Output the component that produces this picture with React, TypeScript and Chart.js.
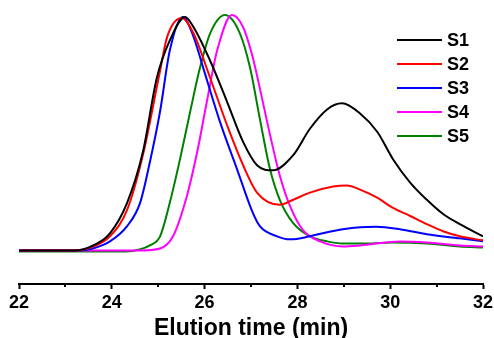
import React, { useEffect, useRef } from "react";
import { Chart, registerables } from "chart.js";

Chart.register(...registerables);

const seriesNames = ["S1", "S2", "S3", "S4", "S5"];
const seriesColors = ["#000000", "#ff0000", "#0000ff", "#ff00ff", "#008000"];
const majorTicks = [22, 24, 26, 28, 30, 32];
const minorTicks = [23, 25, 27, 29, 31];
const xTitle = "Elution time (min)";

const s1Time = [22, 23.2, 23.6, 23.96, 24.33, 24.67, 24.97, 25.25, 25.58, 25.75, 26.12, 26.48, 26.83, 27.13, 27.47, 27.91, 28.27, 28.64, 28.96, 29.35, 29.72, 30.06, 30.43, 30.79, 31.14, 31.5, 32];
const s1Signal = [33, 33, 38, 50, 80, 130, 203, 240, 263, 254, 220, 180, 140, 117, 112, 127, 153, 172, 178, 168, 150, 123, 100, 83, 69, 59, 47];

const s2Time = [22, 23.2, 23.6, 23.96, 24.33, 24.67, 25.04, 25.19, 25.51, 25.75, 26.12, 26.48, 26.83, 27.13, 27.62, 27.91, 28.27, 28.77, 29.07, 29.35, 29.72, 30.06, 30.43, 30.79, 31.14, 31.5, 32];
const s2Signal = [33, 33, 37, 47, 73, 127, 210, 243, 262, 248, 203, 157, 117, 90, 78, 83, 90, 96, 97, 93, 85, 75, 67, 59, 52, 47, 43];

const s3Time = [22, 23.3, 23.59, 23.96, 24.33, 24.61, 24.82, 25.04, 25.25, 25.53, 25.75, 25.97, 26.33, 26.7, 27.04, 27.19, 27.56, 27.84, 28.27, 28.64, 28.98, 29.35, 29.7, 30.21, 30.79, 31.5, 32];
const s3Signal = [33, 33, 35, 42, 57, 80, 120, 170, 230, 263, 245, 213, 160, 113, 70, 57, 47, 44, 47, 51, 54, 56, 56.5, 54, 49, 45, 42];

const s4Time = [22, 24.6, 25.04, 25.32, 25.62, 25.84, 26.05, 26.27, 26.59, 26.83, 27.04, 27.19, 27.41, 27.62, 27.84, 28.12, 28.49, 28.98, 29.35, 30.21, 30.79, 31.5, 32];
const s4Signal = [33, 33, 35, 47, 87, 130, 180, 230, 265, 253, 223, 193, 147, 107, 77, 53, 42, 37, 38, 42, 41, 38, 37];

const s5Time = [22, 24.3, 24.6, 24.82, 25.04, 25.25, 25.47, 25.69, 25.9, 26.12, 26.44, 26.76, 26.98, 27.19, 27.41, 27.62, 27.91, 28.27, 28.64, 28.98, 29.5, 30.06, 30.79, 31.5, 32];
const s5Signal = [32, 32, 34, 38, 47, 80, 123, 170, 213, 247, 265, 247, 213, 163, 113, 83, 60, 47, 42, 40, 40, 41, 40, 37, 36];

const seriesTimes = [s1Time, s2Time, s3Time, s4Time, s5Time];
const seriesSignals = [s1Signal, s2Signal, s3Signal, s4Signal, s5Signal];

const FONT = "'Liberation Sans', Arial, Helvetica, sans-serif";

const minorTickPlugin = {
  id: "minorTicks",
  afterDraw(chart: any) {
    const sc = chart.scales.x;
    const ctx = chart.ctx;
    ctx.save();
    ctx.strokeStyle = "#000";
    ctx.lineWidth = 2;
    for (const v of minorTicks) {
      const px = Math.round(sc.getPixelForValue(v));
      ctx.beginPath();
      ctx.moveTo(px, sc.top);
      ctx.lineTo(px, sc.top + 3);
      ctx.stroke();
    }
    ctx.restore();
  },
};

export default function App() {
  const ref = useRef<HTMLCanvasElement | null>(null);

  useEffect(() => {
    if (!ref.current) return;
    const chart = new Chart(ref.current, {
      type: "line",
      data: {
        datasets: seriesNames.map((name, i) => ({
          label: name,
          data: seriesTimes[i].map((t, j) => ({ x: t, y: seriesSignals[i][j] })),
          borderColor: seriesColors[i],
          backgroundColor: seriesColors[i],
          borderWidth: 2,
          pointRadius: 0,
          cubicInterpolationMode: "monotone" as const,
          fill: false,
        })),
      },
      options: {
        animation: false,
        responsive: false,
        maintainAspectRatio: false,
        layout: { padding: { left: 0, right: 0, top: 10, bottom: -2 } },
        plugins: { legend: { display: false }, tooltip: { enabled: false } },
        scales: {
          x: {
            type: "linear",
            min: 22,
            max: 32,
            afterBuildTicks: (scale: any) => {
              scale.ticks = majorTicks.map((v) => ({ value: v }));
            },
            afterFit: (scale: any) => {
              scale.paddingLeft = 19;
              scale.paddingRight = 11;
            },
            grid: {
              display: true,
              drawOnChartArea: false,
              drawTicks: true,
              tickLength: 5,
              tickColor: "#000",
              tickWidth: 2,
            },
            border: { display: true, color: "#000", width: 2 },
            ticks: {
              color: "#000",
              padding: 5,
              maxRotation: 0,
              font: { family: FONT, size: 18, weight: "bold", lineHeight: 1.0 },
            },
            title: {
              display: true,
              text: xTitle,
              color: "#000",
              padding: { top: 0, bottom: 0 },
              font: { family: FONT, size: 23, weight: "bold", lineHeight: 1 },
            },
          },
          y: { display: false, min: 0, max: 270 },
        },
      },
      plugins: [minorTickPlugin],
    });
    return () => chart.destroy();
  }, []);

  return (
    <div style={{ position: "fixed", left: 0, top: 0, width: 494, height: 338, background: "#fff" }}>
      <canvas ref={ref} width={494} height={338} style={{ width: 494, height: 338, display: "block" }} />
      {seriesNames.map((name, i) => (
        <div key={name} style={{ position: "absolute", left: 397, top: 40 + i * 24 - 12, height: 24, display: "flex", alignItems: "center" }}>
          <div style={{ width: 45, height: 2.5, background: seriesColors[i] }} />
          <span style={{ marginLeft: 5, fontFamily: FONT, fontWeight: "bold", fontSize: 18, color: "#000", lineHeight: "24px" }}>{name}</span>
        </div>
      ))}
    </div>
  );
}
